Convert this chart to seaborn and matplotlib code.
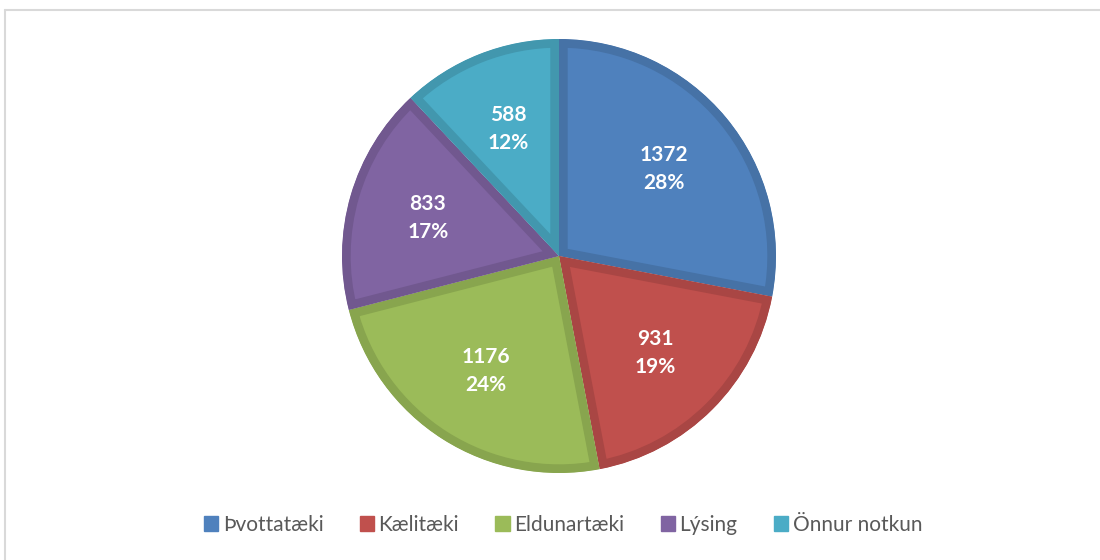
import matplotlib.pyplot as plt
import matplotlib.colors as mcolors
from matplotlib.lines import Line2D
import seaborn as sns

sns.set_theme(style="white")
plt.rcParams["font.family"] = ["Lato", "DejaVu Sans"]

categories = ["Þvottatæki", "Kælitæki", "Eldunartæki", "Lýsing", "Önnur notkun"]
values = [1372, 931, 1176, 833, 588]
colors = ["#4F81BD", "#C0504D", "#9BBB59", "#8064A2", "#4BACC6"]

total = sum(values)
edge_colors = [tuple(c * 0.88 for c in mcolors.to_rgb(col)) for col in colors]

fig = plt.figure(figsize=(11, 5.6), dpi=100)

# pie centred at about (559, 256) px with radius ~217 px
r_px = 217
ax = fig.add_axes([(559 - r_px) / 1100, (560 - 256 - r_px) / 560, 2 * r_px / 1100, 2 * r_px / 560])

wedges, texts, autotexts = ax.pie(
    values,
    colors=colors,
    startangle=90,
    counterclock=False,
    autopct=lambda p: f"{round(p * total / 100)}\n{p:.0f}%",
    pctdistance=0.63,
    wedgeprops={"linewidth": 12.5, "antialiased": True},
    textprops={"color": "white", "fontsize": 15, "fontweight": "bold", "linespacing": 1.5},
)
for w, ec in zip(wedges, edge_colors):
    w.set_edgecolor(ec)
    w.set_clip_path(w)  # keep the border inside each slice
    w.set_clip_on(True)
ax.set_xlim(-1, 1)
ax.set_ylim(-1, 1)
ax.set_aspect("equal")
ax.axis("off")

handles = [plt.Rectangle((0, 0), 1, 1, color=c) for c in colors]
fig.legend(
    handles,
    categories,
    loc="center",
    bbox_to_anchor=(563 / 1100, 1 - 525 / 560),
    ncol=5,
    frameon=False,
    fontsize=15,
    handlelength=0.7,
    handleheight=0.7,
    handletextpad=0.2,
    columnspacing=1.75,
    labelcolor="#595959",
)

# light grey chart frame (left and top edges visible)
fig.add_artist(Line2D([4.5 / 1100, 4.5 / 1100], [0, 1 - 9.5 / 560], transform=fig.transFigure,
                      color="#D9D9D9", linewidth=1.5))
fig.add_artist(Line2D([4.5 / 1100, 1], [1 - 9.5 / 560, 1 - 9.5 / 560], transform=fig.transFigure,
                      color="#D9D9D9", linewidth=1.5))

fig.savefig("out.png", dpi=100)
